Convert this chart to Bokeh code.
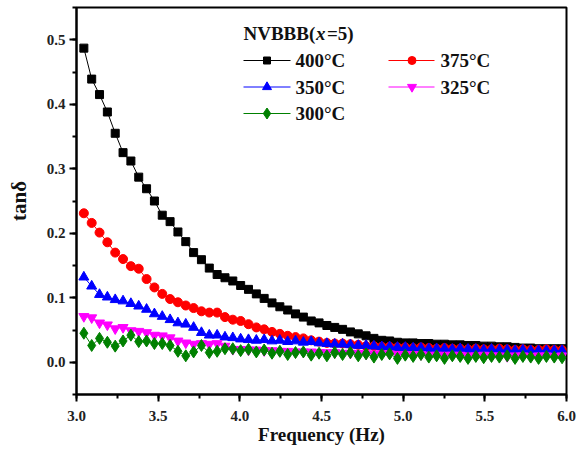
from bokeh.plotting import figure
from bokeh.models import Range1d, SingleIntervalTicker, PrintfTickFormatter
from bokeh.core.properties import value
from bokeh.embed import file_html
from bokeh.resources import INLINE

# log10 of the measurement frequency (Hz)
freq = [3.045, 3.093, 3.141, 3.189, 3.237, 3.285, 3.333, 3.381, 3.429, 3.477,
        3.525, 3.573, 3.621, 3.669, 3.717, 3.765, 3.813, 3.861, 3.909, 3.957,
        4.005, 4.053, 4.101, 4.149, 4.197, 4.245, 4.293, 4.341, 4.389, 4.437,
        4.485, 4.533, 4.581, 4.629, 4.677, 4.725, 4.773, 4.821, 4.869, 4.917,
        4.965, 5.013, 5.061, 5.109, 5.157, 5.205, 5.253, 5.301, 5.349, 5.397,
        5.445, 5.493, 5.541, 5.589, 5.637, 5.685, 5.733, 5.781, 5.829, 5.877,
        5.925, 5.973]

# tan(delta) at each sintering temperature
tan_400 = [0.487, 0.439, 0.415, 0.388, 0.355, 0.325, 0.312, 0.287, 0.269, 0.250,
           0.228, 0.218, 0.202, 0.187, 0.170, 0.159, 0.146, 0.136, 0.131, 0.126,
           0.119, 0.113, 0.106, 0.099, 0.092, 0.086, 0.081, 0.075, 0.070, 0.064,
           0.061, 0.057, 0.054, 0.051, 0.047, 0.044, 0.041, 0.037, 0.034, 0.033,
           0.031, 0.030, 0.030, 0.029, 0.029, 0.028, 0.028, 0.027, 0.027, 0.026,
           0.026, 0.025, 0.025, 0.024, 0.024, 0.023, 0.022, 0.022, 0.021, 0.021,
           0.021, 0.021]
tan_375 = [0.231, 0.216, 0.201, 0.186, 0.170, 0.160, 0.149, 0.145, 0.129, 0.116,
           0.106, 0.098, 0.093, 0.088, 0.084, 0.079, 0.077, 0.077, 0.070, 0.066,
           0.064, 0.059, 0.054, 0.051, 0.047, 0.044, 0.041, 0.039, 0.037, 0.034,
           0.032, 0.030, 0.029, 0.029, 0.028, 0.027, 0.025, 0.025, 0.024, 0.024,
           0.023, 0.023, 0.022, 0.023, 0.022, 0.021, 0.022, 0.021, 0.021, 0.020,
           0.021, 0.020, 0.020, 0.021, 0.020, 0.019, 0.020, 0.019, 0.019, 0.020,
           0.019, 0.019]
tan_350 = [0.132, 0.118, 0.105, 0.101, 0.097, 0.095, 0.091, 0.087, 0.082, 0.075,
           0.071, 0.066, 0.061, 0.059, 0.054, 0.046, 0.042, 0.042, 0.039, 0.038,
           0.036, 0.035, 0.034, 0.035, 0.033, 0.034, 0.032, 0.033, 0.031, 0.032,
           0.030, 0.029, 0.028, 0.028, 0.027, 0.026, 0.026, 0.025, 0.024, 0.024,
           0.023, 0.023, 0.022, 0.022, 0.021, 0.021, 0.021, 0.020, 0.021, 0.020,
           0.020, 0.019, 0.020, 0.019, 0.019, 0.018, 0.019, 0.018, 0.018, 0.018,
           0.018, 0.018]
tan_325 = [0.071, 0.069, 0.061, 0.058, 0.052, 0.054, 0.049, 0.048, 0.046, 0.042,
           0.041, 0.038, 0.033, 0.030, 0.028, 0.029, 0.028, 0.029, 0.025, 0.020,
           0.020, 0.019, 0.019, 0.018, 0.018, 0.017, 0.017, 0.016, 0.016, 0.016,
           0.015, 0.015, 0.015, 0.014, 0.014, 0.014, 0.013, 0.013, 0.013, 0.013,
           0.012, 0.012, 0.012, 0.012, 0.011, 0.011, 0.011, 0.011, 0.011, 0.010,
           0.010, 0.011, 0.010, 0.010, 0.009, 0.010, 0.010, 0.009, 0.010, 0.010,
           0.009, 0.010]
tan_300 = [0.045, 0.026, 0.037, 0.031, 0.025, 0.033, 0.042, 0.032, 0.033, 0.029,
           0.029, 0.026, 0.017, 0.010, 0.016, 0.026, 0.015, 0.017, 0.021, 0.021,
           0.018, 0.020, 0.016, 0.019, 0.014, 0.017, 0.012, 0.015, 0.016, 0.011,
           0.014, 0.010, 0.015, 0.012, 0.015, 0.010, 0.013, 0.008, 0.012, 0.013,
           0.006, 0.011, 0.009, 0.012, 0.008, 0.010, 0.006, 0.010, 0.009, 0.006,
           0.009, 0.007, 0.009, 0.008, 0.010, 0.006, 0.009, 0.008, 0.006, 0.009,
           0.008, 0.007]

series_labels = ["400°C", "375°C", "350°C", "325°C", "300°C"]
series_values = [tan_400, tan_375, tan_350, tan_325, tan_300]
series_colors = ["#000000", "#ff0000", "#0000ff", "#ff00ff", "#008000"]
series_markers = ["square", "circle", "triangle", "inverted_triangle", "diamond"]
series_sizes = [8, 9, 10, 10, 12]

# tick spacing of the two axes
x_tick_step = 0.5
y_tick_step = 0.1

FONT = "Liberation Serif"

p = figure(width=585, height=452, output_backend="svg", toolbar_location=None,
           x_range=Range1d(3.0, 6.0), y_range=Range1d(-0.05, 0.55),
           min_border_left=76, min_border_right=19, min_border_top=7,
           min_border_bottom=58)
p.background_fill_color = "white"
p.border_fill_color = "white"
p.outline_line_color = "black"
p.outline_line_width = 2
p.xgrid.visible = False
p.ygrid.visible = False

p.xaxis.ticker = SingleIntervalTicker(interval=x_tick_step, num_minor_ticks=2)
p.yaxis.ticker = SingleIntervalTicker(interval=y_tick_step, num_minor_ticks=2)
p.axis.formatter = PrintfTickFormatter(format="%.1f")

p.axis.axis_line_color = "black"
p.axis.axis_line_width = 2
p.axis.major_tick_line_color = "black"
p.axis.major_tick_line_width = 2
p.axis.minor_tick_line_color = "black"
p.axis.minor_tick_line_width = 2
p.axis.major_tick_in = 0
p.axis.major_tick_out = 7
p.axis.minor_tick_in = 0
p.axis.minor_tick_out = 4
p.axis.major_label_text_font = FONT
p.axis.major_label_text_font_style = "bold"
p.axis.major_label_text_font_size = "15px"
p.axis.major_label_text_color = "#222222"
p.axis.axis_label_text_font = FONT
p.axis.axis_label_text_font_style = "bold"
p.axis.axis_label_text_color = "#111111"

p.xaxis.major_label_standoff = 9
p.yaxis.major_label_standoff = 4

p.xaxis.axis_label = "Frequency (Hz)"
p.xaxis.axis_label_text_font_size = "19px"
p.xaxis.axis_label_standoff = 0
p.yaxis.axis_label = "tanδ"
p.yaxis.axis_label_text_font_size = "21px"
p.yaxis.axis_label_standoff = 13

# curves
for vals, col, mk, sz in zip(series_values, series_colors, series_markers, series_sizes):
    p.line(freq, vals, line_color=col, line_width=1)
    p.scatter(freq, vals, marker=mk, size=sz, fill_color=col, line_color=col)

# legend drawn in frame pixel coordinates
p.extra_x_ranges = {"px": Range1d(0, 490)}
p.extra_y_ranges = {"py": Range1d(0, 387)}

leg_x_line = [[167, 214], [312, 358], [167, 214], [312, 358], [167, 214]]
leg_x_mark = [190.5, 335.5, 190.5, 335.5, 190.5]
leg_x_text = [219, 364, 219, 364, 219]
leg_y = [334, 334, 307.5, 307.5, 281]

for i, lab in enumerate(series_labels):
    col = series_colors[i]
    p.line(leg_x_line[i], [leg_y[i], leg_y[i]], line_color=col, line_width=1,
           x_range_name="px", y_range_name="py")
    p.scatter([leg_x_mark[i]], [leg_y[i]], marker=series_markers[i],
              size=series_sizes[i] - 1, fill_color=col, line_color=col,
              x_range_name="px", y_range_name="py")
    p.text([leg_x_text[i]], [leg_y[i]], text=[lab],
           text_font=value(FONT), text_font_style="bold", text_font_size="19px",
           text_baseline="middle", text_align="left", text_color="#111111",
           x_range_name="px", y_range_name="py")

# legend title: NVBBB(x=5) with an italic x
title_parts = ["NVBBB(", "x", "=5)"]
title_styles = ["bold", "bold italic", "bold"]
title_x = [167, 239.5, 250.5]
for part, style, tx in zip(title_parts, title_styles, title_x):
    p.text([tx], [361], text=[part], text_font=value(FONT),
           text_font_style=style, text_font_size="19px",
           text_baseline="middle", text_align="left", text_color="#111111",
           x_range_name="px", y_range_name="py")

open("out.html", "w").write(file_html(p, INLINE))
